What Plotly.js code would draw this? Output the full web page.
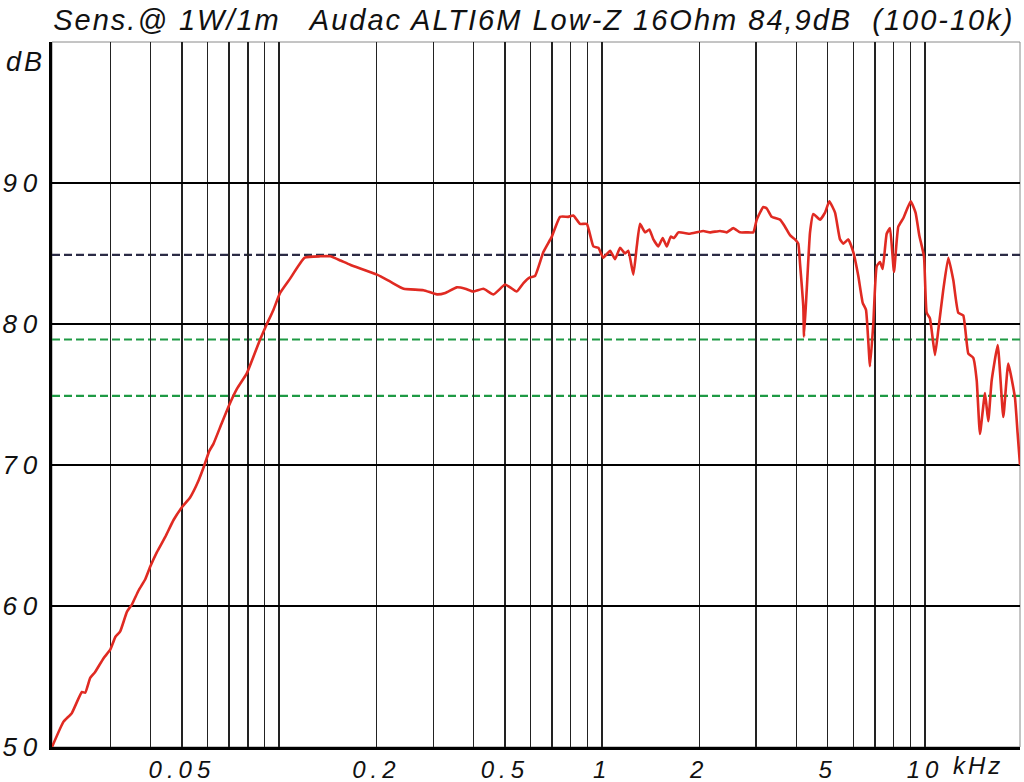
<!DOCTYPE html>
<html><head><meta charset="utf-8">
<script src="https://cdn.plot.ly/plotly-3.0.1.min.js"></script>
<style>
html,body{margin:0;padding:0;background:#fff;}
#chart{width:1024px;height:782px;}
.gtitle{letter-spacing:2px;}
.xtick text{letter-spacing:5px;}
.ytick text{letter-spacing:6px;}
.annotation-text{letter-spacing:3px;}
</style>
</head><body><div id="chart"></div>
<script>
// Frequency in kHz
const freqKHz = [0.0198,0.0215,0.0228,0.0245,0.0251,0.0260,0.0269,0.0286,0.0300,0.0311,
0.0322,0.0338,0.0350,0.0367,0.0385,0.0399,0.0418,0.0444,0.0471,0.0500,
0.0530,0.0563,0.0583,0.0608,0.0626,0.0665,0.0705,0.0740,0.0794,0.0833,
0.0873,0.0912,0.0960,0.1007,0.108,0.120,0.134,0.144,0.155,0.166,
0.201,0.221,0.243,0.280,0.308,0.327,0.355,0.377,0.399,0.429,
0.461,0.501,0.519,0.544,0.571,0.598,0.620,0.658,0.699,0.741,
0.786,0.815,0.855,0.897,0.940,0.974,1.009,1.059,1.097,1.137,
1.178,1.206,1.250,1.281,1.311,1.359,1.401,1.442,1.494,1.541,
1.586,1.632,1.671,1.723,1.873,1.965,2.059,2.160,2.319,2.433,
2.550,2.674,2.805,2.940,3.013,3.158,3.235,3.353,3.557,3.686,
3.819,3.958,4.052,4.102,4.200,4.221,4.303,4.406,4.510,4.731,
4.903,5.056,5.266,5.456,5.587,5.788,5.998,6.216,6.414,6.567,
6.757,6.917,7.087,7.256,7.396,7.610,7.791,8.017,8.267,8.567,
9.031,9.35,9.60,9.929,10.12,10.36,10.74,11.00,11.39,11.81,
12.24,12.68,13.14,13.62,14.11,14.46,14.80,15.34,15.70,16.09,
16.80,17.48,18.11,18.99,19.35,19.69];
// Sound pressure level in dB
const splDB = [50.0,51.8,52.4,53.9,53.85,54.9,55.3,56.3,56.9,57.8,
58.2,59.6,60.1,61.1,61.9,62.8,63.8,64.9,66.1,67.0,
67.7,68.9,69.8,71.0,71.5,73.0,74.4,75.4,76.5,77.7,
78.9,79.9,81.0,82.2,83.2,84.7,84.8,84.8,84.5,84.2,
83.5,83.0,82.5,82.4,82.1,82.2,82.6,82.5,82.3,82.5,
82.1,82.8,82.6,82.3,82.9,83.3,83.4,85.1,86.2,87.6,
87.6,87.7,87.1,87.1,85.5,85.4,84.7,85.2,84.6,85.4,
85.0,85.2,83.5,85.5,87.1,86.5,86.7,86.0,85.5,86.1,
85.5,86.2,86.1,86.5,86.4,86.5,86.6,86.5,86.6,86.5,
86.8,86.5,86.5,86.5,87.4,88.3,88.2,87.6,87.4,86.9,
86.3,86.0,85.7,84.3,81.2,79.1,82.4,86.5,87.8,87.4,
87.9,88.7,87.9,86.0,85.7,86.0,85.1,83.4,81.5,81.0,
77.0,80.0,84.1,84.4,83.9,86.4,86.8,83.7,86.9,87.5,
88.7,87.9,86.3,84.8,80.8,80.4,77.8,79.6,82.4,84.7,
83.1,80.8,80.6,77.9,77.6,76.0,72.2,75.1,73.1,76.0,
78.5,73.4,77.2,74.8,72.3,70.0];

const sensitivity = 84.9;
const refOffsets = [0, -6, -10];
const refColors = ['#2b2b45', '#1e9a44', '#1e9a44'];

const xRange = [0.0198, 19.69];
const xTickVals = [0.05, 0.2, 0.5, 1, 2, 5, 10];
const xTickText = ['0.05', '0.2', '0.5', '1', '2', '5', '10'];
const xMinorVals = [0.03,0.04,0.06,0.07,0.08,0.09,0.1,0.3,0.4,0.6,0.7,0.8,0.9,3,4,6,7,8,9];
const yRange = [50, 100];
const yTickVals = [50, 60, 70, 80, 90];
const yTickText = ['50', '60', '70', '80', '90'];

const titleText = 'Sens.@ 1W/1m   Audac ALTI6M Low-Z 16Ohm 84,9dB  (100-10k)';
const xUnit = 'kHz';
const yUnit = 'dB';

const fontFam = '"Liberation Sans", Arial, sans-serif';
const yTickFont = {family: fontFam, size: 26, color: '#111', style: 'italic'};
const xTickFont = {family: fontFam, size: 24, color: '#111', style: 'italic'};

const traces = [{
  x: freqKHz, y: splDB, type: 'scatter', mode: 'lines',
  line: {color: '#e02a22', width: 2.6, shape: 'spline', smoothing: 0.4}, hoverinfo: 'skip'
}];

const shapes = refOffsets.map((o, i) => ({
  type: 'line', xref: 'paper', x0: 0, x1: 1, yref: 'y',
  y0: sensitivity + o, y1: sensitivity + o, layer: 'between',
  line: {color: refColors[i], width: 2.2, dash: '8px,4px'}
}));
shapes.unshift({type: 'rect', xref: 'paper', yref: 'paper', x0: 0, x1: 1, y0: 0, y1: 1,
  layer: 'below', line: {color: '#8a8a8a', width: 1}});

const layout = {
  width: 1024, height: 782,
  margin: {l: 52, r: 4, t: 42, b: 35},
  paper_bgcolor: '#fff', plot_bgcolor: '#fff',
  showlegend: false,
  title: {text: titleText, xref: 'container', x: 0.052, xanchor: 'left', yref: 'container', y: 0.975, yanchor: 'middle',
    font: {family: fontFam, size: 29, color: '#111', style: 'italic'}},
  xaxis: {
    type: 'log', range: xRange.map(Math.log10),
    tickmode: 'array', tickvals: xTickVals, ticktext: xTickText,
    ticks: '', ticklen: 0, showgrid: true, gridcolor: '#222', gridwidth: 1.4,
    minor: {tickmode: 'array', tickvals: xMinorVals, showgrid: true, gridcolor: '#222', gridwidth: 1.4, ticks: ''},
    showline: true, linecolor: '#000', linewidth: 2.5, zeroline: false,
    tickfont: xTickFont, ticklabelstandoff: 0
  },
  yaxis: {
    range: yRange, tickmode: 'array', tickvals: yTickVals, ticktext: yTickText,
    ticks: '', ticklen: 0, showgrid: true, gridcolor: '#000', gridwidth: 1.5,
    showline: true, linecolor: '#000', linewidth: 3.5, zeroline: false,
    tickfont: yTickFont, ticklabelstandoff: 0
  },
  shapes: shapes,
  annotations: [
    {text: xUnit, xref: 'paper', yref: 'paper', x: 0.985, y: 0, xanchor: 'right', yanchor: 'top', yshift: -3,
      showarrow: false, font: xTickFont},
    {text: yUnit, xref: 'paper', yref: 'paper', x: -0.005, y: 0.972, xanchor: 'right', yanchor: 'middle',
      showarrow: false, font: {family: fontFam, size: 27, color: '#111', style: 'italic'}}
  ]
};

Plotly.newPlot('chart', traces, layout, {staticPlot: true, displayModeBar: false});
</script>
</body></html>
